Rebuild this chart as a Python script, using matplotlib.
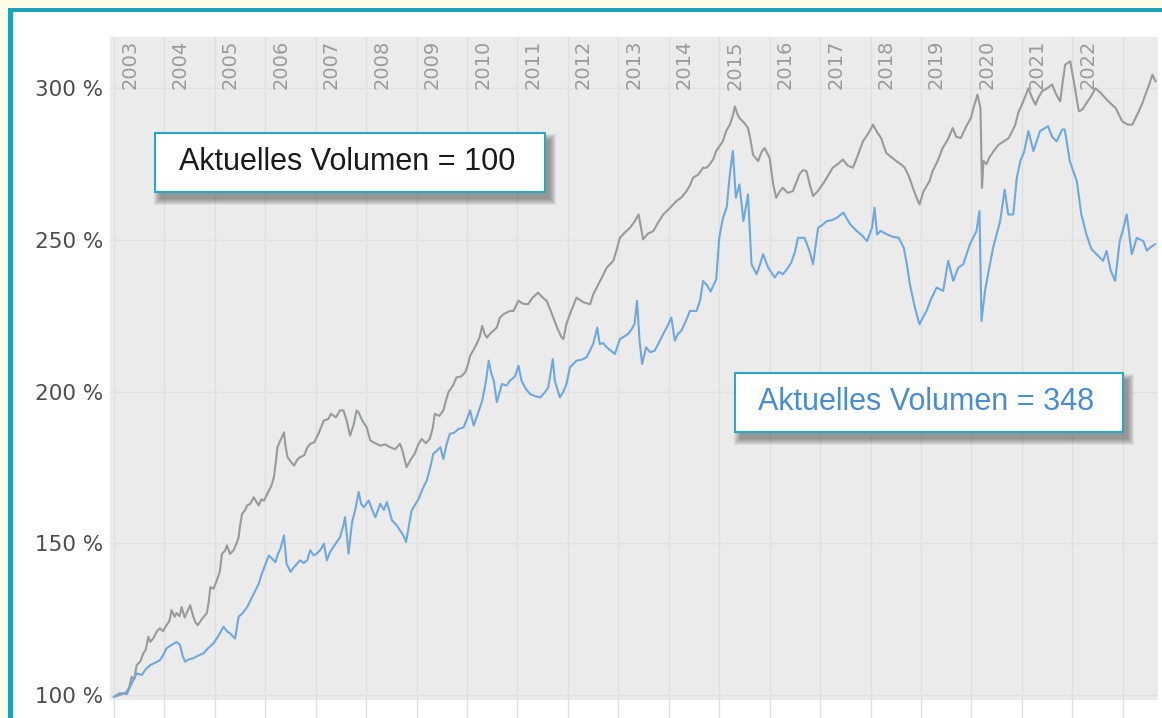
import matplotlib
matplotlib.use("Agg")
import matplotlib.pyplot as plt
from matplotlib.patches import Rectangle

# Werte (Jahr als Dezimalzahl, Wert in %)
grey_years = [
    2003.00, 2003.15, 2003.25, 2003.30, 2003.35, 2003.40, 2003.45, 2003.52, 2003.58, 2003.63,
    2003.68, 2003.72, 2003.78, 2003.85, 2003.91, 2003.97, 2004.04, 2004.10, 2004.14, 2004.20,
    2004.24, 2004.30, 2004.34, 2004.40, 2004.44, 2004.51, 2004.56, 2004.61, 2004.66, 2004.74,
    2004.84, 2004.88, 2004.91, 2004.97, 2005.04, 2005.10, 2005.14, 2005.20, 2005.24, 2005.30,
    2005.37, 2005.43, 2005.47, 2005.50, 2005.54, 2005.60, 2005.64, 2005.70, 2005.77, 2005.83,
    2005.87, 2005.92, 2005.97, 2006.03, 2006.07, 2006.12, 2006.17, 2006.21, 2006.24, 2006.30,
    2006.37, 2006.40, 2006.44, 2006.50, 2006.57, 2006.63, 2006.69, 2006.77, 2006.83, 2006.89,
    2006.97, 2007.05, 2007.16, 2007.25, 2007.30, 2007.40, 2007.48, 2007.55, 2007.62, 2007.68,
    2007.75, 2007.81, 2007.85, 2007.92, 2008.01, 2008.08, 2008.18, 2008.28, 2008.38, 2008.47,
    2008.57, 2008.67, 2008.72, 2008.80, 2008.88, 2008.96, 2009.03, 2009.10, 2009.18, 2009.26,
    2009.32, 2009.36, 2009.45, 2009.53, 2009.58, 2009.63, 2009.72, 2009.79, 2009.88, 2009.96,
    2010.02, 2010.06, 2010.12, 2010.19, 2010.25, 2010.30, 2010.35, 2010.39, 2010.48, 2010.59,
    2010.65, 2010.72, 2010.85, 2010.92, 2011.02, 2011.10, 2011.21, 2011.30, 2011.41, 2011.50,
    2011.58, 2011.65, 2011.71, 2011.80, 2011.87, 2011.91, 2011.97, 2012.05, 2012.17, 2012.30,
    2012.44, 2012.50, 2012.57, 2012.67, 2012.77, 2012.90, 2012.97, 2013.03, 2013.13, 2013.23,
    2013.32, 2013.40, 2013.45, 2013.49, 2013.58, 2013.69, 2013.78, 2013.89, 2014.02, 2014.15,
    2014.25, 2014.35, 2014.42, 2014.48, 2014.58, 2014.68, 2014.75, 2014.81, 2014.88, 2014.94,
    2015.07, 2015.14, 2015.21, 2015.27, 2015.31, 2015.36, 2015.40, 2015.50, 2015.57, 2015.62,
    2015.67, 2015.77, 2015.84, 2015.90, 2016.00, 2016.04, 2016.07, 2016.13, 2016.20, 2016.26,
    2016.36, 2016.46, 2016.53, 2016.59, 2016.66, 2016.73, 2016.80, 2016.86, 2016.95, 2017.05,
    2017.15, 2017.25, 2017.35, 2017.45, 2017.55, 2017.65, 2017.75, 2017.85, 2017.95, 2018.05,
    2018.13, 2018.21, 2018.31, 2018.40, 2018.51, 2018.60, 2018.68, 2018.76, 2018.84, 2018.91,
    2018.97, 2019.05, 2019.17, 2019.23, 2019.33, 2019.43, 2019.53, 2019.63, 2019.70, 2019.79,
    2019.90, 2019.99, 2020.05, 2020.12, 2020.18, 2020.21, 2020.24, 2020.30, 2020.35, 2020.45,
    2020.54, 2020.64, 2020.74, 2020.80, 2020.87, 2020.93, 2021.03, 2021.13, 2021.20, 2021.27,
    2021.33, 2021.40, 2021.50, 2021.60, 2021.68, 2021.76, 2021.81, 2021.86, 2021.96, 2022.03,
    2022.13, 2022.20, 2022.26, 2022.36, 2022.46, 2022.56, 2022.66, 2022.76, 2022.86, 2022.99,
    2023.10, 2023.19, 2023.25, 2023.32, 2023.40, 2023.45, 2023.52, 2023.59, 2023.65,
]
grey_vals = [
    99.4, 100.2, 101.0, 102.5, 106.0, 105.2, 109.9, 111.0, 113.7, 115.0,
    119.2, 117.5, 118.7, 121.0, 122.0, 121.0, 123.0, 124.5, 128.0, 125.8,
    127.0, 126.0, 129.0, 125.5, 127.0, 129.6, 126.5, 124.0, 123.0, 125.0,
    127.0, 131.0, 135.6, 135.0, 137.8, 141.0, 146.6, 147.5, 149.3, 146.5,
    147.7, 150.0, 152.0, 156.0, 159.7, 161.0, 162.5, 163.0, 165.2, 163.5,
    162.5, 164.5, 164.0, 166.0, 167.4, 169.0, 171.8, 177.0, 181.7, 184.0,
    186.6, 182.0, 178.4, 177.0, 175.6, 177.5, 178.4, 179.0, 181.5, 182.8,
    183.3, 186.0, 190.5, 191.0, 192.7, 191.5, 193.8, 193.8, 190.0, 185.5,
    189.0, 193.8, 193.2, 190.5, 188.2, 183.9, 183.0, 182.2, 182.6, 181.7,
    181.0, 182.8, 180.5, 175.1, 177.5, 179.5, 182.5, 184.4, 183.0, 184.4,
    188.0, 192.7, 192.0, 193.8, 197.0, 199.8, 202.0, 204.7, 205.0, 206.3,
    209.0, 211.8, 213.5, 215.7, 218.0, 221.7, 219.0, 217.8, 219.5, 221.1,
    224.4, 225.5, 226.6, 226.6, 230.0, 229.0, 228.8, 231.0, 232.6, 231.0,
    229.9, 227.0, 224.4, 220.5, 218.0, 217.3, 222.3, 226.0, 231.0, 229.5,
    228.8, 232.0, 234.3, 237.5, 240.9, 243.1, 247.0, 250.7, 252.5, 254.0,
    256.0, 258.4, 254.0, 250.2, 252.0, 252.9, 255.5, 258.4, 260.5, 262.8,
    264.0, 266.1, 268.0, 270.5, 271.5, 273.8, 273.8, 274.9, 276.5, 279.3,
    282.5, 286.0, 288.0, 291.0, 294.0, 291.5, 290.2, 288.5, 286.9, 283.0,
    278.1, 276.0, 279.0, 280.3, 277.0, 272.0, 268.3, 263.9, 266.0, 267.2,
    265.5, 266.1, 269.0, 271.6, 273.0, 272.7, 268.0, 264.5, 266.0, 268.3,
    271.0, 273.8, 275.0, 276.5, 274.5, 273.8, 278.0, 282.5, 285.0, 288.0,
    285.5, 283.6, 278.7, 277.5, 276.0, 275.0, 273.8, 271.0, 267.2, 264.0,
    261.7, 266.0, 269.4, 272.7, 276.0, 280.3, 283.0, 286.9, 284.0, 283.6,
    287.5, 290.2, 294.0, 297.9, 293.5, 267.2, 276.0, 275.0, 277.0, 279.5,
    281.4, 282.5, 283.6, 285.5, 288.0, 292.0, 295.7, 300.0, 297.0, 294.6,
    297.0, 299.0, 300.0, 301.2, 298.0, 295.7, 302.0, 307.8, 308.9, 302.3,
    292.4, 293.0, 294.6, 297.0, 300.0, 298.5, 296.7, 295.0, 293.5, 289.1,
    288.0, 288.0, 290.0, 292.4, 295.5, 297.9, 301.0, 304.5, 302.3,
]

blue_years = [
    2003.00, 2003.10, 2003.19, 2003.25, 2003.29, 2003.37, 2003.45, 2003.55, 2003.63, 2003.72,
    2003.80, 2003.91, 2003.97, 2004.04, 2004.14, 2004.24, 2004.31, 2004.36, 2004.41, 2004.49,
    2004.57, 2004.67, 2004.77, 2004.87, 2004.97, 2005.07, 2005.17, 2005.24, 2005.30, 2005.40,
    2005.47, 2005.55, 2005.64, 2005.70, 2005.77, 2005.82, 2005.87, 2005.92, 2005.97, 2006.02,
    2006.07, 2006.13, 2006.20, 2006.25, 2006.30, 2006.37, 2006.42, 2006.50, 2006.56, 2006.63,
    2006.69, 2006.76, 2006.83, 2006.89, 2006.96, 2007.02, 2007.10, 2007.16, 2007.22, 2007.28,
    2007.35, 2007.42, 2007.48, 2007.55, 2007.58, 2007.62, 2007.65, 2007.72, 2007.78, 2007.85,
    2007.90, 2007.95, 2008.05, 2008.12, 2008.18, 2008.28, 2008.35, 2008.41, 2008.47, 2008.51,
    2008.60, 2008.67, 2008.74, 2008.79, 2008.85, 2008.90, 2009.04, 2009.12, 2009.20, 2009.27,
    2009.33, 2009.40, 2009.47, 2009.53, 2009.60, 2009.66, 2009.75, 2009.83, 2009.93, 2010.00,
    2010.06, 2010.13, 2010.22, 2010.30, 2010.37, 2010.43, 2010.48, 2010.53, 2010.59, 2010.69,
    2010.78, 2010.85, 2010.95, 2011.02, 2011.08, 2011.16, 2011.25, 2011.35, 2011.45, 2011.53,
    2011.61, 2011.70, 2011.74, 2011.84, 2011.91, 2011.97, 2012.04, 2012.17, 2012.27, 2012.37,
    2012.50, 2012.58, 2012.63, 2012.70, 2012.77, 2012.85, 2012.93, 2013.03, 2013.10, 2013.19,
    2013.26, 2013.32, 2013.37, 2013.42, 2013.47, 2013.55, 2013.63, 2013.72, 2013.80, 2013.89,
    2013.97, 2014.05, 2014.12, 2014.18, 2014.25, 2014.33, 2014.42, 2014.55, 2014.62, 2014.68,
    2014.76, 2014.83, 2014.94, 2015.00, 2015.07, 2015.15, 2015.21, 2015.27, 2015.33, 2015.40,
    2015.48, 2015.57, 2015.64, 2015.74, 2015.81, 2015.87, 2015.97, 2016.10, 2016.18, 2016.26,
    2016.35, 2016.43, 2016.50, 2016.56, 2016.69, 2016.79, 2016.86, 2016.96, 2017.05, 2017.13,
    2017.23, 2017.33, 2017.46, 2017.53, 2017.60, 2017.73, 2017.83, 2017.93, 2018.03, 2018.08,
    2018.13, 2018.20, 2018.33, 2018.45, 2018.56, 2018.66, 2018.72, 2018.78, 2018.88, 2018.97,
    2019.04, 2019.11, 2019.20, 2019.31, 2019.44, 2019.54, 2019.64, 2019.74, 2019.84, 2019.97,
    2020.10, 2020.16, 2020.20, 2020.27, 2020.33, 2020.43, 2020.57, 2020.66, 2020.73, 2020.83,
    2020.90, 2020.97, 2021.05, 2021.13, 2021.23, 2021.36, 2021.52, 2021.60, 2021.69, 2021.80,
    2021.85, 2021.88, 2021.95, 2022.09, 2022.18, 2022.28, 2022.38, 2022.48, 2022.61, 2022.68,
    2022.76, 2022.85, 2022.94, 2023.00, 2023.08, 2023.18, 2023.28, 2023.41, 2023.48, 2023.54,
    2023.64,
]
blue_vals = [
    99.4, 100.5, 100.6, 100.2, 101.6, 104.5, 107.1, 106.6, 108.5, 109.9,
    110.5, 111.5, 113.0, 115.4, 116.5, 117.5, 116.4, 113.0, 111.0, 111.8,
    112.1, 113.0, 113.7, 115.5, 117.0, 119.5, 122.5, 121.0, 120.3, 118.6,
    125.8, 127.0, 129.0, 131.0, 133.4, 135.0, 136.7, 139.5, 141.7, 144.0,
    146.0, 145.0, 143.8, 146.5, 148.2, 152.6, 143.3, 140.6, 142.0, 143.3,
    144.4, 143.5, 144.4, 147.7, 146.0, 146.6, 148.0, 149.9, 144.4, 147.0,
    148.8, 150.5, 152.0, 156.0, 158.6, 152.0, 146.6, 157.0, 160.8, 166.9,
    163.0, 161.9, 164.1, 161.0, 158.6, 163.0, 161.0, 163.6, 160.0, 157.6,
    156.0, 154.3, 152.5, 150.4, 156.0, 160.8, 164.7, 168.0, 170.7, 175.0,
    179.5, 180.5, 181.7, 177.8, 183.0, 186.1, 186.5, 187.7, 188.2, 191.0,
    193.8, 188.8, 193.0, 197.0, 203.0, 210.2, 206.0, 203.6, 196.5, 202.5,
    202.0, 203.6, 205.0, 208.5, 203.6, 201.0, 199.2, 198.5, 198.1, 199.5,
    201.4, 210.7, 203.6, 198.1, 200.0, 202.5, 208.0, 210.2, 210.5, 211.3,
    215.7, 221.1, 215.7, 216.0, 214.6, 213.5, 212.4, 217.3, 218.0, 219.0,
    220.5, 222.2, 229.9, 216.8, 209.1, 214.6, 213.0, 213.5, 216.0, 219.0,
    221.5, 224.4, 216.8, 219.0, 220.1, 223.0, 226.6, 226.6, 230.0, 236.5,
    235.0, 233.0, 237.0, 250.7, 257.0, 261.0, 271.6, 279.3, 263.9, 268.3,
    256.2, 265.0, 242.0, 238.7, 242.0, 245.3, 240.9, 237.6, 239.5, 238.7,
    240.5, 242.6, 246.0, 250.7, 250.7, 246.4, 242.0, 254.0, 255.0, 256.2,
    256.5, 257.3, 259.0, 257.0, 255.1, 252.9, 251.5, 249.6, 254.0, 260.6,
    251.8, 253.0, 251.8, 251.0, 250.7, 247.4, 242.0, 235.4, 227.7, 222.2,
    224.5, 226.6, 230.5, 234.3, 233.2, 243.1, 236.5, 240.9, 242.0, 248.6,
    252.9, 259.5, 223.3, 233.2, 238.7, 247.4, 256.2, 266.6, 258.4, 258.4,
    270.5, 276.0, 279.3, 285.9, 279.3, 285.9, 287.5, 284.0, 282.5, 286.4,
    286.4, 283.6, 276.0, 269.4, 258.4, 251.8, 247.0, 245.3, 243.1, 246.4,
    240.0, 236.5, 249.6, 253.0, 258.4, 245.3, 250.7, 249.6, 246.5, 247.4,
    248.6,
]

year_labels = list(range(2003, 2023))
y_ticks = [100, 150, 200, 250, 300]
grey_text = "Aktuelles Volumen = 100"
blue_text = "Aktuelles Volumen = 348"

GREY = "#979b9b"
BLUE = "#6fa8dc"
TEAL = "#1ba3b8"

W, H = 1162, 718


def fx(px):
    return px / W


def fy(py):
    return 1 - py / H


fig = plt.figure(figsize=(W / 100, H / 100), dpi=100, facecolor="#fdfde8")

# weisse Flaeche mit tuerkisem Rand oben/links
fig.patches.append(Rectangle((fx(8), 0), 1 - fx(8), fy(8), transform=fig.transFigure,
                             facecolor=TEAL, edgecolor="none", zorder=-3))
fig.patches.append(Rectangle((fx(13), 0), 1 - fx(13), fy(12), transform=fig.transFigure,
                             facecolor="white", edgecolor="none", zorder=-2))

# Plotbereich
ax = fig.add_axes([fx(110), fy(700), fx(1158) - fx(110), (700 - 37) / H])
ax.set_zorder(1)
ax.set_facecolor("#ebebeb")
ax.set_xlim(2002.92, 2023.70)
ax.set_ylim(98.35, 316.9)
for s in ax.spines.values():
    s.set_visible(False)

ax.set_yticks(y_ticks)
ax.set_yticklabels([f"{v} %" for v in y_ticks], fontsize=15.5, color="#4d4d4d",
                   family="DejaVu Sans")
ax.tick_params(axis="y", length=0, pad=5)
ax.set_xticks([])
ax.grid(axis="y", color="#e2e2e2", linewidth=1)
ax.set_axisbelow(True)

# Jahres-Gitterlinien (laufen unten etwas aus dem Plot heraus)
for yr in year_labels + [2023]:
    ax.axvline(yr, ymin=-0.04, ymax=1, color="#dfdfdf", linewidth=1, clip_on=False, zorder=0.5)

# Jahreszahlen senkrecht oben im Plot
for yr in year_labels:
    ax.annotate(str(yr), xy=(yr + 0.31, 1), xycoords=("data", "axes fraction"),
                xytext=(0, -3), textcoords="offset pixels", rotation=90,
                ha="center", va="top", fontsize=14, color="#9a9a9a", family="DejaVu Sans")

ax.plot(grey_years, grey_vals, color=GREY, linewidth=1.5, zorder=2)
ax.plot(blue_years, blue_vals, color=BLUE, linewidth=1.5, zorder=3)


def text_box(x0, y0, x1, y1, text, color):
    # weicher Schatten nach rechts unten
    for g in [6, 5, 4, 3, 2, 1, 0]:
        fig.patches.append(Rectangle((fx(x0 + 5 - g), fy(y1 + 7 + g)), (x1 - x0 + 2 * g) / W,
                                     (y1 - y0 + 2 * g) / H, transform=fig.transFigure,
                                     facecolor="#202020", edgecolor="none", alpha=0.07, zorder=5))
    fig.patches.append(Rectangle((fx(x0), fy(y1)), (x1 - x0) / W, (y1 - y0) / H,
                                 transform=fig.transFigure, facecolor="white",
                                 edgecolor="#2aa8c0", linewidth=1.5, zorder=6))
    fig.text(fx((x0 + x1) / 2 - 3), fy((y0 + y1) / 2 - 1), text, ha="center", va="center",
             fontsize=22, color=color, family="Liberation Sans", zorder=7)


text_box(155, 133, 545, 192, grey_text, "#1a1a1a")
text_box(735, 373, 1123, 432, blue_text, "#4a8cd2")

fig.savefig("out.png", dpi=100, facecolor=fig.get_facecolor())
